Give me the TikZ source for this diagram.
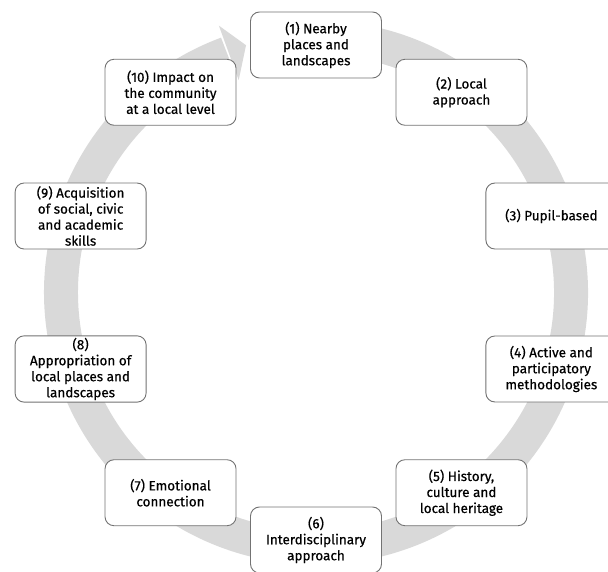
\documentclass[tikz,border=0pt]{standalone}
\usepackage{fontspec}
\setmainfont{Fira Sans}[FakeBold=0.5]
\usetikzlibrary{calc}
\definecolor{ringgray}{HTML}{D9D9D9}
\definecolor{boxgray}{HTML}{737373}
\begin{document}
\begin{tikzpicture}[x=1pt,y=1pt,
  box/.style={draw=boxgray, line width=0.9pt, fill=white, rounded corners=9pt,
    minimum width=131pt, minimum height=66pt, align=center, inner sep=2pt,
    font=\fontsize{13.5}{16}\selectfont, text=black}]
\useasboundingbox (0,0) rectangle (608,571);
\coordinate (c) at (316,278.5);
% ring with arrowhead
\draw[ringgray, line width=34] ($(c)+(100:255)$) arc[start angle=100, end angle=-249.6, radius=255];
\coordinate (hb1) at ($(c)+(110:226)$);
\coordinate (hb2) at ($(c)+(110:284)$);
\coordinate (ht) at ($(c)+(105.8:257)$);
\fill[ringgray] (hb1) -- (hb2) -- (ht) -- cycle;
% nodes
\node[box] (n1) at ($(c)+(90:247.5)$) {(1) Nearby\\places and\\landscapes};
\node[box] (n2) at ($(c)+(54:247.5)$) {(2) Local\\approach};
\node[box] (n3) at ($(c)+(18:247.5)$) {(3) Pupil-based};
\node[box] (n4) at ($(c)+(-18:247.5)$) {(4) Active and\\participatory\\methodologies};
\node[box] (n5) at ($(c)+(-54:247.5)$) {(5) History,\\culture and\\local heritage};
\node[box] (n6) at ($(c)+(-90:247.5)$) {(6)\\Interdisciplinary\\approach};
\node[box] (n7) at ($(c)+(-126:247.5)$) {(7) Emotional\\connection};
\node[box] (n8) at ($(c)+(-162:247.5)$) {(8)\\Appropriation of\\local places and\\landscapes};
\node[box] (n9) at ($(c)+(162:247.5)$) {(9) Acquisition\\of social, civic\\and academic\\skills};
\node[box] (n10) at ($(c)+(126:247.5)$) {(10) Impact on\\the community\\at a local level};
\end{tikzpicture}
\end{document}
